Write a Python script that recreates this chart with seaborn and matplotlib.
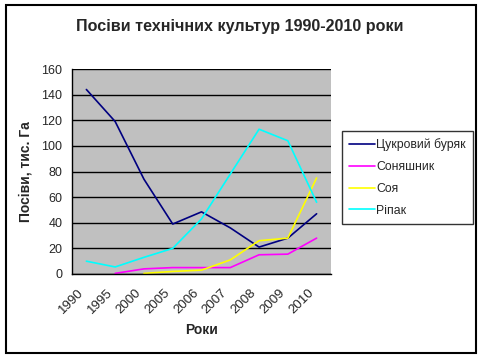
import numpy as np
import pandas as pd
import matplotlib
matplotlib.use("Agg")
import matplotlib.pyplot as plt
import matplotlib.transforms as mtransforms
from matplotlib.patches import Rectangle
import seaborn as sns

# data (тис. га)
years = ["1990", "1995", "2000", "2005", "2006", "2007", "2008", "2009", "2010"]
sugar_beet = [144, 119, 74, 39, 48.5, 36, 21, 28, 47]
sunflower = [np.nan, 0.5, 4, 5, 5, 5, 15, 15.5, 28]
soy = [np.nan, np.nan, 0.5, 2, 3, 11, 26, 28, 75]
rapeseed = [10, 5.5, 13, 20, 43, 78, 113, 104, 56]

series_names = ["Цукровий буряк", "Соняшник", "Соя", "Ріпак"]
series_colors = ["#000080", "#FF00FF", "#FFFF00", "#00FFFF"]

title = "Посіви технічних культур 1990-2010 роки"
x_label = "Роки"
y_label = "Посіви, тис. Га"

# long format table for seaborn
rows = []
for name, vals in zip(series_names, [sugar_beet, sunflower, soy, rapeseed]):
    for i, v in enumerate(vals):
        rows.append({"pos": i, "year": years[i], "crop": name, "value": v})
df = pd.DataFrame(rows).dropna()

sns.set_style("white")
plt.rcParams["font.family"] = ["Liberation Sans", "DejaVu Sans"]

W, H = 483, 359
fig = plt.figure(figsize=(W / 100, H / 100), dpi=100)
ax = fig.add_axes([72 / W, 1 - 274 / H, (331 - 72) / W, (274 - 69) / H])
ax.set_facecolor("#C0C0C0")

sns.lineplot(data=df, x="pos", y="value", hue="crop", hue_order=series_names,
             palette=series_colors, linewidth=1.2, estimator=None, sort=True,
             ax=ax, legend=False)

ax.set_xlim(-0.5, len(years) - 0.5)
ax.set_ylim(0, 160)
ax.set_yticks(range(0, 161, 20))
ax.yaxis.grid(True, color="black", linewidth=1)
ax.set_axisbelow(True)
for s in ["top", "right"]:
    ax.spines[s].set_visible(False)
for s in ["left", "bottom"]:
    ax.spines[s].set_color("black")
    ax.spines[s].set_linewidth(1)

ax.set_xticks(range(len(years)))
ax.set_xticklabels(years, rotation=45, ha="right", rotation_mode="anchor", fontsize=9.5)
ax.set_xticks(np.arange(-0.5, len(years)), minor=True)
ax.tick_params(axis="x", which="major", length=0, pad=9)
ax.tick_params(axis="x", which="minor", length=4, width=1, color="black", direction="out")
ax.tick_params(axis="y", length=4, width=1, color="black", direction="out", labelsize=9, pad=3)

# shift rotated year labels a bit to the left, like in the original
shift = mtransforms.ScaledTranslation(-9 / 100, 0, fig.dpi_scale_trans)
for lbl in ax.get_xticklabels():
    lbl.set_transform(lbl.get_transform() + shift)

ax.set_xlabel(x_label, fontsize=10, fontweight="bold", labelpad=5)
ax.set_ylabel(y_label, fontsize=10, fontweight="bold", labelpad=6)

fig.text(240 / W, 1 - 26 / H, title, ha="center", va="center",
         fontsize=11.6, fontweight="bold")

handles = [plt.Line2D([], [], color=c, linewidth=1.2) for c in series_colors]
leg = fig.legend(handles, series_names, loc="upper left",
                 bbox_to_anchor=(342 / W, 1 - 131 / H), fontsize=8.8,
                 frameon=True, fancybox=False, handlelength=2.1,
                 handletextpad=0.1, borderpad=0.6, labelspacing=0.8,
                 borderaxespad=0)
leg.get_frame().set_edgecolor("black")
leg.get_frame().set_linewidth(1)

# chart area border
fig.patches.append(Rectangle((6 / W, 1 - 353 / H), 470 / W, 348 / H,
                             transform=fig.transFigure, fill=False,
                             edgecolor="black", linewidth=1.5))

fig.savefig("out.png", dpi=100)
